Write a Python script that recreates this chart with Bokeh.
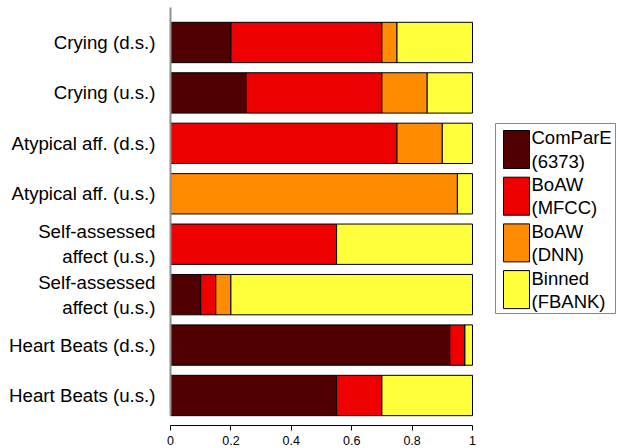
from bokeh.plotting import figure
from bokeh.models import Range1d, FixedTicker, ColumnDataSource
from bokeh.embed import file_html
from bokeh.resources import INLINE
from bokeh.core.properties import value

# ---- data ----
categories = ["Crying (d.s.)", "Crying (u.s.)", "Atypical aff. (d.s.)",
              "Atypical aff. (u.s.)", "Self-assessed\naffect (u.s.)",
              "Self-assessed\naffect (u.s.)", "Heart Beats (d.s.)",
              "Heart Beats (u.s.)"]
series = ["compare", "mfcc", "dnn", "fbank"]
series_labels = ["ComParE\n(6373)", "BoAW\n(MFCC)", "BoAW\n(DNN)", "Binned\n(FBANK)"]
colors = ["#500000", "#ee0000", "#ff8c00", "#ffff3b"]
compare = [0.20, 0.25, 0.00, 0.00, 0.00, 0.10, 0.925, 0.55]
mfcc    = [0.50, 0.45, 0.75, 0.00, 0.55, 0.05, 0.050, 0.15]
dnn     = [0.05, 0.15, 0.15, 0.95, 0.00, 0.05, 0.000, 0.00]
fbank   = [0.25, 0.15, 0.10, 0.05, 0.45, 0.80, 0.025, 0.30]
x_ticks = [0, 0.2, 0.4, 0.6, 0.8, 1]
x_tick_labels = ["0", "0.2", "0.4", "0.6", "0.8", "1"]

FONT = "Liberation Sans"
W, H = 624, 448
FL, FR, FT, FB = 170, 617, 7, 425       # frame edges in page pixels
XPX = 302.0                              # pixels per x unit
bar_h = 0.8
ys = list(range(len(categories), 0, -1))
y_top = 8.694
y_bot = 0.405
x_end = (FR - FL) / XPX
ypx = (FB - FT) / (y_top - y_bot)


def px2x(px):
    return (px - FL) / XPX


def py2y(py):
    return y_top - (py - FT) / ypx


src = ColumnDataSource(dict(y=ys, compare=compare, mfcc=mfcc, dnn=dnn, fbank=fbank))

p = figure(width=W, height=H, x_range=Range1d(0, x_end), y_range=Range1d(y_bot, y_top),
           output_backend="svg", toolbar_location=None,
           min_border_left=FL, min_border_right=W - FR, min_border_top=FT,
           min_border_bottom=H - FB)
p.hbar_stack(series, y="y", height=bar_h, color=colors, line_color="black",
             line_width=1, source=src)

p.outline_line_color = None
p.grid.visible = False

p.xaxis.axis_label = None
p.xaxis.axis_label_standoff = 0
p.xaxis.bounds = (0, 1)
p.xaxis.ticker = FixedTicker(ticks=x_ticks)
p.xaxis.major_label_overrides = {t: l for t, l in zip(x_ticks, x_tick_labels)}
p.xaxis.minor_tick_line_color = None
p.xaxis.major_tick_in = 0
p.xaxis.major_tick_out = 5
p.xaxis.major_label_standoff = 5
p.xaxis.axis_line_color = "black"
p.xaxis.major_tick_line_color = "black"
p.xaxis.major_label_text_font = FONT
p.xaxis.major_label_text_font_size = "12.5px"
p.xaxis.major_label_text_color = "black"

p.yaxis.axis_label = None
p.yaxis.bounds = (min(ys) - bar_h / 2, y_top)
p.yaxis.ticker = FixedTicker(ticks=ys)
p.yaxis.major_label_overrides = {y: c for y, c in zip(ys, categories)}
p.yaxis.axis_line_color = "#909090"
p.yaxis.axis_line_width = 2
p.yaxis.major_tick_line_color = None
p.yaxis.minor_tick_line_color = None
p.yaxis.major_tick_out = 0
p.yaxis.major_label_standoff = 15
p.yaxis.major_label_text_font = FONT
p.yaxis.major_label_text_font_size = "18.7px"
p.yaxis.major_label_text_color = "black"

# ---- legend (drawn in the free area right of the bars) ----
p.quad(left=[px2x(495)], right=[px2x(615)], top=[py2y(123)], bottom=[py2y(313)],
       fill_color="white", line_color="#888888", line_width=1)
n = len(series)
tops = [130 + i * 46.7 for i in range(n)]
lsrc = ColumnDataSource(dict(
    left=[px2x(503)] * n, right=[px2x(529)] * n,
    top=[py2y(t) for t in tops], bottom=[py2y(t + 38) for t in tops],
    color=colors, tx=[px2x(531)] * n, ty=[py2y(t + 19) for t in tops],
    label=series_labels))
p.quad(left="left", right="right", top="top", bottom="bottom", fill_color="color",
       line_color="black", line_width=1, source=lsrc)
p.text(x="tx", y="ty", text="label", source=lsrc, text_font=value(FONT),
       text_font_size="18.5px", text_baseline="middle", text_align="left",
       text_line_height=1.1, text_color="black")

open("out.html", "w").write(file_html(p, INLINE))
